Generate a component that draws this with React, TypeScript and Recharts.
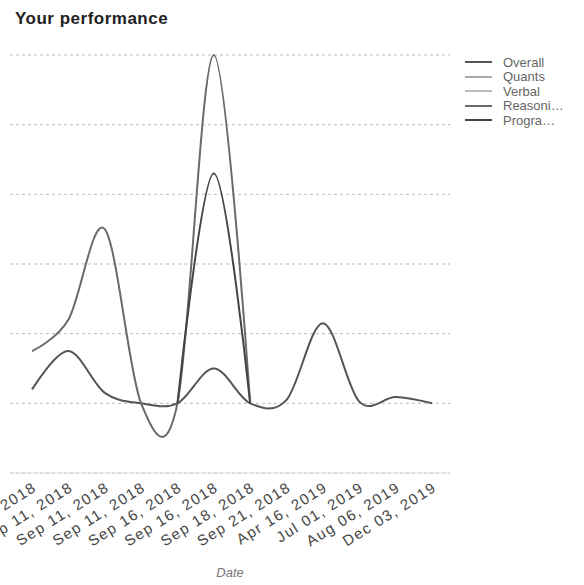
import React from "react";
import { LineChart, Line, XAxis, YAxis, CartesianGrid, Legend } from "recharts";

const dates = [
  "Sep 10, 2018",
  "Sep 11, 2018",
  "Sep 11, 2018",
  "Sep 11, 2018",
  "Sep 16, 2018",
  "Sep 16, 2018",
  "Sep 18, 2018",
  "Sep 21, 2018",
  "Apr 16, 2019",
  "Jul 01, 2019",
  "Aug 06, 2019",
  "Dec 03, 2019",
];

const overall = [4, 15, 3, 0, 0, 10, 0, 1, 23, 0.5, 1.8, 0];
const quants: (number | null)[] = [null, null, null, null, null, null, null, null, null, null, null, null];
const verbal: (number | null)[] = [null, null, null, null, null, null, null, null, null, null, null, null];
const reasoning: (number | null)[] = [15, 24, 50, 0, 0, 100, 0, null, null, null, null, null];
const programming: (number | null)[] = [null, null, null, null, 0, 66, 0, null, null, null, null, null];

const yTicks = [-20, 0, 20, 40, 60, 80, 100];

const seriesNames = ["Overall", "Quants", "Verbal", "Reasoning", "Programming"];
const seriesKeys = ["overall", "quants", "verbal", "reasoning", "programming"];
const seriesColors = ["#555555", "#aaaaaa", "#bbbbbb", "#6a6a6a", "#444444"];

const data = dates.map((d, i) => ({
  date: d,
  overall: overall[i],
  quants: quants[i],
  verbal: verbal[i],
  reasoning: reasoning[i],
  programming: programming[i],
}));

const FONT = "'Liberation Sans', Arial, sans-serif";

// Cardinal spline (tension 0) curve factory, d3-shape compatible
function cardinalCurve(context: any) {
  const k = 1 / 6;
  const s: any = {
    _line: NaN,
    _point: 0,
    _x0: NaN, _x1: NaN, _x2: NaN, _y0: NaN, _y1: NaN, _y2: NaN,
  };
  const seg = (x: number, y: number) => {
    context.bezierCurveTo(
      s._x1 + k * (s._x2 - s._x0),
      s._y1 + k * (s._y2 - s._y0),
      s._x2 + k * (s._x1 - x),
      s._y2 + k * (s._y1 - y),
      s._x2,
      s._y2
    );
  };
  return {
    areaStart() { s._line = 0; },
    areaEnd() { s._line = NaN; },
    lineStart() {
      s._x0 = s._x1 = s._x2 = s._y0 = s._y1 = s._y2 = NaN;
      s._point = 0;
    },
    lineEnd() {
      switch (s._point) {
        case 2: context.lineTo(s._x2, s._y2); break;
        case 3: seg(s._x1, s._y1); break;
      }
      if (s._line || (s._line !== 0 && s._point === 1)) context.closePath();
      s._line = 1 - s._line;
    },
    point(x: number, y: number) {
      x = +x; y = +y;
      switch (s._point) {
        case 0:
          s._point = 1;
          s._line ? context.lineTo(x, y) : context.moveTo(x, y);
          break;
        case 1:
          s._point = 2;
          s._x1 = x; s._y1 = y;
          break;
        case 2:
          s._point = 3;
          seg(x, y);
          break;
        default:
          seg(x, y);
          break;
      }
      s._x0 = s._x1; s._x1 = s._x2; s._x2 = x;
      s._y0 = s._y1; s._y1 = s._y2; s._y2 = y;
    },
  };
}

const LegendContent = () => (
  <div style={{ fontFamily: FONT, fontSize: 13, color: "#666" }}>
    {seriesNames.map((n, i) => (
      <div key={n} style={{ display: "flex", alignItems: "center", height: 14.5 }}>
        <div style={{ width: 27, height: 2, background: seriesColors[i], marginRight: 11, flexShrink: 0 }} />
        <div style={{ maxWidth: 61.5, overflow: "hidden", textOverflow: "ellipsis", whiteSpace: "nowrap" }}>{n}</div>
      </div>
    ))}
  </div>
);

export default function App() {
  return (
    <div style={{ position: "absolute", left: 0, top: 0, width: 584, height: 585, background: "#fff" }}>
      <div
        style={{
          position: "absolute",
          left: 15,
          top: 9,
          fontFamily: FONT,
          fontWeight: "bold",
          fontSize: 17,
          letterSpacing: 0.5,
          color: "#222",
        }}
      >
        Your performance
      </div>
      <LineChart
        width={584}
        height={585}
        data={data}
        margin={{ top: 55, right: 134, left: 10, bottom: 12 }}
        style={{ fontFamily: FONT }}
      >
        <CartesianGrid vertical={false} stroke="#bbbbbb" strokeDasharray="3 3" />
        <XAxis
          dataKey="date"
          interval={0}
          padding={{ left: 22, right: 18 }}
          height={100}
          tickLine={false}
          axisLine={{ stroke: "#dddddd" }}
          angle={-32}
          textAnchor="end"
          tick={{ fontSize: 15, fill: "#444", letterSpacing: 1.5 }}
          label={{ value: "Date", position: "insideBottom", offset: -4, fontSize: 13, fill: "#777", fontStyle: "italic" }}
        />
        <YAxis hide domain={[-20, 100]} ticks={yTicks} />
        <Legend
          layout="vertical"
          align="center"
          verticalAlign="middle"
          wrapperStyle={{ left: 465, top: 55, width: 115 }}
          content={<LegendContent />}
        />
        {seriesKeys.map((k, i) => (
          <Line
            key={k}
            type={cardinalCurve as any}
            dataKey={k}
            name={seriesNames[i]}
            stroke={seriesColors[i]}
            strokeWidth={2}
            dot={false}
            activeDot={false}
            isAnimationActive={false}
          />
        ))}
      </LineChart>
    </div>
  );
}
